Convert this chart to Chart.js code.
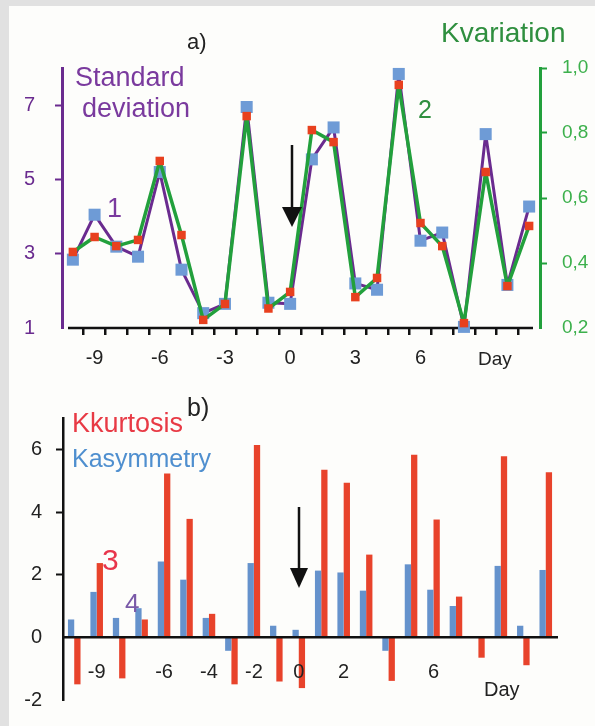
<!DOCTYPE html>
<html><head><meta charset="utf-8">
<script src="https://cdn.jsdelivr.net/npm/chart.js@4"></script>
<style>
html,body{margin:0;padding:0;background:#e1e1e1;width:595px;height:726px;overflow:hidden}
#panel{position:absolute;left:9px;top:6px;width:586px;height:720px;background:#fdfdfb}
#c1{position:absolute;left:0;top:0}
#c2{position:absolute;left:0;top:380px}
</style></head><body>
<div id="panel"></div>
<canvas id="c1" width="595" height="380"></canvas>
<canvas id="c2" width="595" height="346"></canvas>
<script>
// ---- data ----
const days = [-10,-9,-8,-7,-6,-5,-4,-3,-2,-1,0,1,2,3,4,5,6,7,8,9,10,11];
const stdDeviation = [2.84,4.05,3.19,2.92,5.2,2.57,1.40,1.65,6.95,1.68,1.65,5.54,6.40,2.20,2.03,7.84,3.35,3.57,1.03,6.22,2.16,4.27];
const kVariation = [0.434,0.48,0.452,0.471,0.714,0.486,0.225,0.274,0.852,0.26,0.311,0.809,0.772,0.295,0.354,0.948,0.523,0.452,0.215,0.68,0.329,0.514];
const kAsymmetry = [0.57,1.45,0.62,0.93,2.42,1.84,0.62,-0.43,2.37,0.37,0.24,2.13,2.07,1.49,-0.43,2.33,1.52,1.0,null,2.28,0.37,2.15];
const kKurtosis = [-1.5,2.37,-1.31,0.57,5.23,3.78,0.75,-1.5,6.14,-1.41,-1.62,5.35,4.93,2.64,-1.39,5.83,3.76,1.3,-0.65,5.78,-0.89,5.27];
const stdTicks = [1,3,5,7];
const kvTicks = [0.2,0.4,0.6,0.8,1.0];
const kTicks = [-2,0,2,4,6];
const dayTicksA = ['-9','-6','-3','0','3','6'];
const dayTicksB = ['-9','-6','-4','-2','0','2','6'];

const FONT = "'Liberation Sans', Arial, sans-serif";
const PURPLE = '#6a2b8f', GREEN = '#22a03c';

function arrow(ctx, x, y1, y2, headTop, hw){
  ctx.save();
  ctx.strokeStyle = '#111'; ctx.fillStyle = '#111'; ctx.lineWidth = 2.5;
  ctx.beginPath(); ctx.moveTo(x, y1); ctx.lineTo(x, headTop + 2); ctx.stroke();
  ctx.beginPath(); ctx.moveTo(x - hw, headTop); ctx.lineTo(x + hw, headTop); ctx.lineTo(x, y2); ctx.closePath(); ctx.fill();
  ctx.restore();
}
function txt(ctx, s, x, y, size, color, align){
  ctx.save(); ctx.font = size + 'px ' + FONT; ctx.fillStyle = color;
  ctx.textAlign = align || 'left'; ctx.textBaseline = 'alphabetic';
  ctx.fillText(s, x, y); ctx.restore();
}

const plugA = {
  id: 'plugA',
  beforeDatasetsDraw(chart){
    const {ctx, chartArea:a} = chart;
    ctx.save(); ctx.strokeStyle = '#111'; ctx.lineWidth = 2.5;
    ctx.beginPath(); ctx.moveTo(a.left + 6, a.bottom); ctx.lineTo(a.right - 7, a.bottom); ctx.stroke();
    ctx.restore();
  },
  afterDraw(chart){
    const ctx = chart.ctx;
    txt(ctx, 'a)', 187, 49, 22, '#222');
    txt(ctx, 'Standard', 75, 86, 27, '#7a3a9e');
    txt(ctx, 'deviation', 82, 117, 27, '#7a3a9e');
    txt(ctx, 'Kvariation', 441, 42, 28, '#2f8f3f');
    txt(ctx, '1', 107, 217, 27, '#7a3a9e');
    txt(ctx, '2', 418, 118, 25, '#2f8f3f');
    txt(ctx, 'Day', 478, 365, 19, '#222');
    arrow(ctx, 292, 145, 227, 207, 10);
  }
};

new Chart(document.getElementById('c1'), {
  type: 'line',
  data: {
    labels: days,
    datasets: [
      { label: 'Kvariation', data: kVariation, yAxisID: 'yKv', order: 1,
        borderColor: GREEN, borderWidth: 3.5, tension: 0, clip: false, borderJoinStyle: 'round',
        pointStyle: 'rect', pointRadius: 6, pointBackgroundColor: '#e8401e', pointBorderWidth: 0 },
      { label: 'Standard deviation', data: stdDeviation, yAxisID: 'yStd', order: 2,
        borderColor: PURPLE, borderWidth: 3, tension: 0, clip: false, borderJoinStyle: 'round',
        pointStyle: 'rect', pointRadius: 8.5, pointBackgroundColor: '#6e9bd6', pointBorderWidth: 0 }
    ]
  },
  options: {
    responsive: false, animation: false, events: [],
    layout: { padding: { top: 68, left: 0, right: 0, bottom: 0 } },
    plugins: { legend: { display: false }, tooltip: { enabled: false } },
    scales: {
      x: {
        type: 'category', offset: true,
        border: { display: false },
        grid: { display: true, drawOnChartArea: false, offset: true, tickLength: 7, lineWidth: 2.5,
          tickWidth: 2.5,
          tickColor: c => (c.type !== 'tick' || c.index === 0) ? 'rgba(0,0,0,0)' : '#111',
          color: c => (c.type !== 'tick' || c.index === 0) ? 'rgba(0,0,0,0)' : '#111' },
        ticks: { autoSkip: false, maxRotation: 0, padding: 11, color: '#222', font: { family: FONT, size: 20 },
          callback: function(v, i){ const l = String(days[i]); return dayTicksA.includes(l) ? l : ''; } },
        afterFit: s => { s.height = 52; }
      },
      yStd: {
        position: 'left', min: 1, max: 8,
        afterBuildTicks: s => { s.ticks = stdTicks.map(v => ({ value: v })); },
        border: { display: true, color: PURPLE, width: 3 },
        grid: { drawOnChartArea: false, tickLength: 7, tickWidth: 2,
          tickColor: c => (c.tick && c.tick.value === 1) ? 'rgba(0,0,0,0)' : PURPLE },
        ticks: { padding: 20, color: '#6a2b8f', font: { family: FONT, size: 20 } },
        afterFit: s => { s.width = 62; }
      },
      yKv: {
        position: 'right', min: 0.2, max: 1.0,
        afterBuildTicks: s => { s.ticks = kvTicks.map(v => ({ value: v })); },
        border: { display: true, color: GREEN, width: 3 },
        grid: { drawOnChartArea: false, tickLength: 7, tickWidth: 2,
          tickColor: c => (c.tick && c.tick.value < 0.3) ? 'rgba(0,0,0,0)' : GREEN },
        ticks: { padding: 15, color: '#3cb04c', font: { family: FONT, size: 19 },
          callback: v => v.toFixed(1).replace('.', ',') },
        afterFit: s => { s.width = 55; }
      }
    }
  },
  plugins: [plugA]
});

const plugB = {
  id: 'plugB',
  afterDraw(chart){
    const ctx = chart.ctx;
    txt(ctx, 'b)', 187, 416 - 380, 25, '#222');
    txt(ctx, 'Kkurtosis', 72, 432 - 380, 27, '#e83a45');
    txt(ctx, 'Kasymmetry', 72, 467 - 380, 25, '#4f8fcf');
    txt(ctx, '3', 102, 570 - 380, 30, '#e8364c');
    txt(ctx, '4', 125, 612 - 380, 26, '#7a5aa8');
    txt(ctx, 'Day', 484, 696 - 380, 20, '#222');
    arrow(ctx, 299, 507 - 380, 588 - 380, 568 - 380, 9);
  }
};

new Chart(document.getElementById('c2'), {
  type: 'bar',
  data: {
    labels: days,
    datasets: [
      { label: 'Kasymmetry', data: kAsymmetry, backgroundColor: '#6592cc', borderWidth: 0,
        categoryPercentage: 0.56, barPercentage: 1.0 },
      { label: 'Kkurtosis', data: kKurtosis, backgroundColor: '#e8432b', borderWidth: 0,
        categoryPercentage: 0.56, barPercentage: 1.0 }
    ]
  },
  options: {
    responsive: false, animation: false, events: [],
    layout: { padding: { top: 38, left: 0, right: 38, bottom: 13 } },
    plugins: { legend: { display: false }, tooltip: { enabled: false } },
    scales: {
      x: {
        type: 'category', offset: true, position: { y: 0 },
        border: { display: true, color: '#111', width: 2.5, z: 1 },
        grid: { display: false },
        ticks: { z: 1, autoSkip: false, maxRotation: 0, padding: 15, color: '#222', font: { family: FONT, size: 20 },
          callback: function(v, i){ const l = String(days[i]); return dayTicksB.includes(l) ? l : ''; } }
      },
      y: {
        position: 'left', min: -2, max: 7,
        afterBuildTicks: s => { s.ticks = kTicks.map(v => ({ value: v })); },
        border: { display: true, color: '#111', width: 2.5 },
        grid: { drawOnChartArea: false, tickLength: 7, tickWidth: 2,
          tickColor: c => (c.tick && c.tick.value <= 0) ? 'rgba(0,0,0,0)' : '#111' },
        ticks: { padding: 14, color: '#222', font: { family: FONT, size: 20 } },
        afterFit: s => { s.width = 63; }
      }
    }
  },
  plugins: [plugB]
});
</script>
</body></html>
